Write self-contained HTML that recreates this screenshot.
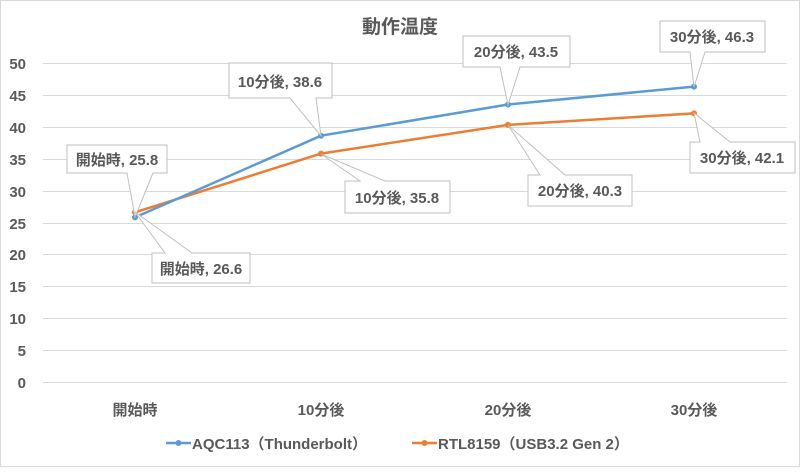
<!DOCTYPE html>
<html><head><meta charset="utf-8"><style>
body{margin:0;background:#fff}
svg text{font-family:"Liberation Sans","Noto Sans CJK JP",sans-serif;fill:#595959;font-weight:bold}
</style></head><body>
<svg width="800" height="467" viewBox="0 0 800 467" xmlns="http://www.w3.org/2000/svg">
<rect x="0.5" y="0.5" width="799" height="466" fill="#fff" stroke="#d9d9d9"/>
<text x="400" y="33" font-size="19" text-anchor="middle">動作温度</text>
<g stroke="#d9d9d9" stroke-width="1">
<line x1="43" x2="787" y1="63.5" y2="63.5"/><line x1="43" x2="787" y1="95.5" y2="95.5"/>
<line x1="43" x2="787" y1="127.5" y2="127.5"/><line x1="43" x2="787" y1="159.5" y2="159.5"/>
<line x1="43" x2="787" y1="191.5" y2="191.5"/><line x1="43" x2="787" y1="223.5" y2="223.5"/>
<line x1="43" x2="787" y1="254.5" y2="254.5"/><line x1="43" x2="787" y1="286.5" y2="286.5"/>
<line x1="43" x2="787" y1="318.5" y2="318.5"/><line x1="43" x2="787" y1="350.5" y2="350.5"/>
<line x1="43" x2="787" y1="382.5" y2="382.5"/>
</g>
<g font-size="15" text-anchor="end">
<text x="26" y="69">50</text><text x="26" y="101">45</text><text x="26" y="133">40</text>
<text x="26" y="165">35</text><text x="26" y="197">30</text><text x="26" y="229">25</text>
<text x="26" y="260">20</text><text x="26" y="292">15</text><text x="26" y="324">10</text>
<text x="26" y="356">5</text><text x="26" y="388">0</text>
</g>
<g font-size="15" text-anchor="middle">
<text x="135" y="415">開始時</text><text x="321" y="415">10分後</text>
<text x="508" y="415">20分後</text><text x="694" y="415">30分後</text>
</g>
<polyline points="135,212.3 321,153.6 508,124.9 694,113.4" fill="none" stroke="#ed7d31" stroke-width="2.5"/>
<polyline points="135,217.4 321,135.7 508,104.5 694,86.6" fill="none" stroke="#5b9bd5" stroke-width="2.5"/>
<g fill="#ed7d31"><circle cx="135" cy="212.3" r="3"/><circle cx="321" cy="153.6" r="3"/><circle cx="508" cy="124.9" r="3"/><circle cx="694" cy="113.4" r="3"/></g>
<g fill="#5b9bd5"><circle cx="135" cy="217.4" r="3"/><circle cx="321" cy="135.7" r="3"/><circle cx="508" cy="104.5" r="3"/><circle cx="694" cy="86.6" r="3"/></g>
<g fill="#fff" stroke="#bfbfbf" stroke-width="1">
<path d="M67,145 H167 V173 H153 L135,217 L127,173 H67 Z"/>
<path d="M152,253 H165 L135,212 L192,253 H250 V283 H152 Z"/>
<path d="M229,63 H332 V98 H316 L321,136 L290,98 H229 Z"/>
<path d="M345,181 H360 L321,154 L385,181 H450 V213 H345 Z"/>
<path d="M463,36 H570 V67 H520 L508,105 L500,67 H463 Z"/>
<path d="M528,175 H540 L508,125 L565,175 H632 V206 H528 Z"/>
<path d="M660,21 H765 V52 H705 L694,87 L690,52 H660 Z"/>
<path d="M690,142 H700 L694,113 L730,142 H795 V173 H690 Z"/>
</g>
<g font-size="15" text-anchor="middle">
<text x="117" y="165">開始時, 25.8</text>
<text x="201" y="274">開始時, 26.6</text>
<text x="280" y="87">10分後, 38.6</text>
<text x="397" y="203">10分後, 35.8</text>
<text x="516" y="57">20分後, 43.5</text>
<text x="580" y="196">20分後, 40.3</text>
<text x="712" y="42">30分後, 46.3</text>
<text x="742" y="163">30分後, 42.1</text>
</g>
<line x1="166" x2="191" y1="443" y2="443" stroke="#5b9bd5" stroke-width="2.5"/>
<circle cx="178.5" cy="443" r="3" fill="#5b9bd5"/>
<text x="192" y="449" font-size="15">AQC113（Thunderbolt）</text>
<line x1="412" x2="437" y1="443" y2="443" stroke="#ed7d31" stroke-width="2.5"/>
<circle cx="424.5" cy="443" r="3" fill="#ed7d31"/>
<text x="438" y="449" font-size="15">RTL8159（USB3.2 Gen 2）</text>
</svg>
</body></html>
